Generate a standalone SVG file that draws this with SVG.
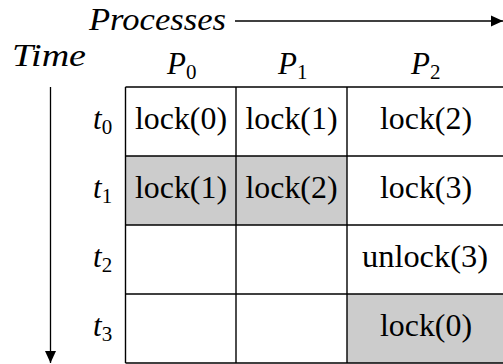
<svg xmlns="http://www.w3.org/2000/svg" width="503" height="364" viewBox="0 0 503 364" font-family="Liberation Serif, DejaVu Serif, Noto Serif, serif">
  <style>
    text { fill: #000; font-size: 31px; }
    .it { font-style: italic; }
    .rm { text-anchor: middle; }
    .sub { font-style: normal; font-size: 21px; }
    .grid { stroke: #000; stroke-width: 1.4; fill: none; }
    .shade { fill: #cccccc; stroke: none; }
    .axis { stroke: #000; stroke-width: 1.3; fill: none; }
  </style>
  <defs>
    <marker id="ah" viewBox="0 0 12 12" refX="12" refY="6" markerWidth="12" markerHeight="12" markerUnits="userSpaceOnUse" orient="auto">
      <path d="M0,0.5 L12,6 L0,11.5 Z" fill="#000"/>
    </marker>
  </defs>

  <g id="axes">
    <line class="axis" x1="235" y1="21" x2="503" y2="21" marker-end="url(#ah)"/>
    <line class="axis" x1="50.5" y1="87" x2="50.5" y2="363" marker-end="url(#ah)"/>
  </g>

  <g id="axis-labels">
    <text class="it" x="89" y="30" textLength="137" lengthAdjust="spacingAndGlyphs">Processes</text>
    <text class="it" x="12" y="66" textLength="74" lengthAdjust="spacingAndGlyphs">Time</text>
  </g>

  <g id="process-headers">
    <text class="it" x="167" y="74">P<tspan class="sub" dy="5">0</tspan></text>
    <text class="it" x="278" y="74">P<tspan class="sub" dy="5">1</tspan></text>
    <text class="it" x="411" y="74">P<tspan class="sub" dy="5">2</tspan></text>
  </g>

  <g id="time-labels">
    <text class="it" x="93" y="129">t<tspan class="sub" dy="5">0</tspan></text>
    <text class="it" x="93" y="198">t<tspan class="sub" dy="5">1</tspan></text>
    <text class="it" x="93" y="267">t<tspan class="sub" dy="5">2</tspan></text>
    <text class="it" x="93" y="336">t<tspan class="sub" dy="5">3</tspan></text>
  </g>

  <g id="shading">
    <rect class="shade" x="125.5" y="156" width="221.5" height="69"/>
    <rect class="shade" x="347" y="294" width="158" height="69"/>
  </g>

  <g id="grid">
    <line class="grid" x1="125.5" y1="87" x2="505" y2="87"/>
    <line class="grid" x1="125.5" y1="156" x2="505" y2="156"/>
    <line class="grid" x1="125.5" y1="225" x2="505" y2="225"/>
    <line class="grid" x1="125.5" y1="294" x2="505" y2="294"/>
    <line class="grid" x1="125.5" y1="363" x2="505" y2="363"/>
    <line class="grid" x1="125.5" y1="87" x2="125.5" y2="363"/>
    <line class="grid" x1="236" y1="87" x2="236" y2="363"/>
    <line class="grid" x1="347" y1="87" x2="347" y2="363"/>
  </g>

  <g id="cells">
    <text class="rm" x="181" y="129" textLength="92" lengthAdjust="spacingAndGlyphs">lock(0)</text>
    <text class="rm" x="291.5" y="129" textLength="92" lengthAdjust="spacingAndGlyphs">lock(1)</text>
    <text class="rm" x="426" y="129" textLength="92" lengthAdjust="spacingAndGlyphs">lock(2)</text>
    <text class="rm" x="181" y="198" textLength="92" lengthAdjust="spacingAndGlyphs">lock(1)</text>
    <text class="rm" x="291.5" y="198" textLength="92" lengthAdjust="spacingAndGlyphs">lock(2)</text>
    <text class="rm" x="426" y="198" textLength="92" lengthAdjust="spacingAndGlyphs">lock(3)</text>
    <text class="rm" x="425" y="267" textLength="126" lengthAdjust="spacingAndGlyphs">unlock(3)</text>
    <text class="rm" x="426" y="336" textLength="92" lengthAdjust="spacingAndGlyphs">lock(0)</text>
  </g>
</svg>
